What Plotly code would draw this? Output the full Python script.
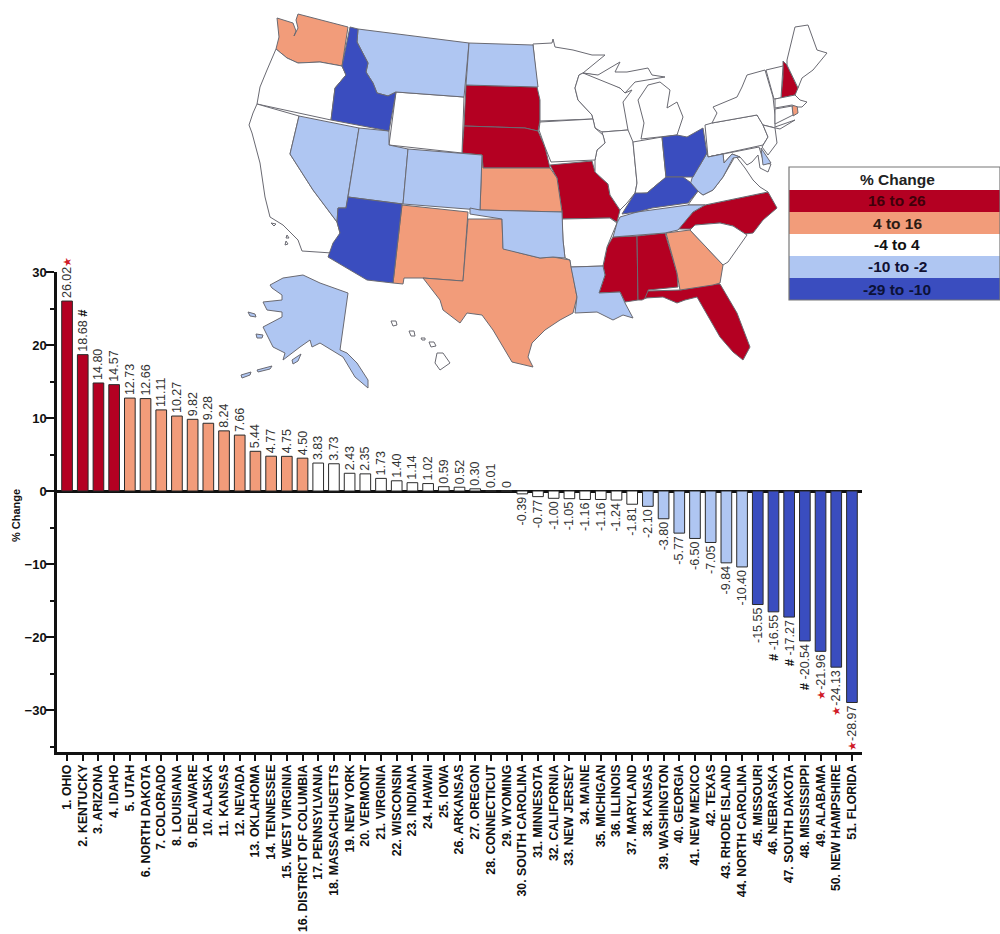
import plotly.graph_objects as go

# ---------- bar chart data ----------
STATE_NAMES = ["OHIO","KENTUCKY","ARIZONA","IDAHO","UTAH","NORTH DAKOTA","COLORADO","LOUISIANA","DELAWARE","ALASKA",
 "KANSAS","NEVADA","OKLAHOMA","TENNESSEE","WEST VIRGINIA","DISTRICT OF COLUMBIA","PENNSYLVANIA","MASSACHUSETTS","NEW YORK","VERMONT",
 "VIRGINIA","WISCONSIN","INDIANA","HAWAII","IOWA","ARKANSAS","OREGON","CONNECTICUT","WYOMING","SOUTH CAROLINA",
 "MINNESOTA","CALIFORNIA","NEW JERSEY","MAINE","MICHIGAN","ILLINOIS","MARYLAND","KANSAS","WASHINGTON","GEORGIA",
 "NEW MEXICO","TEXAS","RHODE ISLAND","NORTH CAROLINA","MISSOURI","NEBRASKA","SOUTH DAKOTA","MISSISSIPPI","ALABAMA","NEW HAMPSHIRE","FLORIDA"]
VALUES = [26.02,18.68,14.80,14.57,12.73,12.66,11.11,10.27,9.82,9.28,
 8.24,7.66,5.44,4.77,4.75,4.50,3.83,3.73,2.43,2.35,
 1.73,1.40,1.14,1.02,0.59,0.52,0.30,0.01,0,-0.39,
 -0.77,-1.00,-1.05,-1.16,-1.16,-1.24,-1.81,-2.10,-3.80,-5.77,
 -6.50,-7.05,-9.84,-10.40,-15.55,-16.55,-17.27,-20.54,-21.96,-24.13,-28.97]
VALUE_LABELS = ["26.02","18.68","14.80","14.57","12.73","12.66","11.11","10.27","9.82","9.28",
 "8.24","7.66","5.44","4.77","4.75","4.50","3.83","3.73","2.43","2.35",
 "1.73","1.40","1.14","1.02","0.59","0.52","0.30","0.01","0","-0.39",
 "-0.77","-1.00","-1.05","-1.16","-1.16","-1.24","-1.81","-2.10","-3.80","-5.77",
 "-6.50","-7.05","-9.84","-10.40","-15.55","-16.55","-17.27","-20.54","-21.96","-24.13","-28.97"]
STAR_RANKS = [1,49,50,51]
HASH_RANKS = [2,46,47,48]
BIN_COUNTS = [4,12,21,7,7]   # red, salmon, white, light, blue along the ranking

RED, SALMON, WHITE, LIGHT, BLUE = "#B40022", "#F29C7A", "#FFFFFF", "#AFC6F2", "#3A4DBF"
BIN_COLORS = [RED, SALMON, WHITE, LIGHT, BLUE]

LEGEND_TITLE = "% Change"
LEGEND_ROWS = ["16 to 26","4 to 16","-4 to 4","-10 to -2","-29 to -10"]
LEGEND_TEXT = ["#40000a","#2a1a14","#111111","#111133","#0c1238"]

# ---------- map data: outlines ----------
MAP_BINS = {
 RED: ["SD","NE","MO","MS","AL","FL","NH","NC"],
 SALMON: ["WA","NM","TX","KS","GA","RI"],
 WHITE: ["OR","CA","WY","MN","WI","IL","IN","MI","IA","AR","SC","VA","PA","NY","VT","ME","MA","CT","NJ","MD","HI"],
 LIGHT: ["MT","ND","NV","UT","CO","OK","LA","TN","WV","AK","DE"],
 BLUE: ["ID","AZ","OH","KY"],
}
OUTLINES = {
 "WA":[[(277,18),(293,23),(296,31),(294,36),(298,28),(296,20),(298,14),(348,27),(342,66),(320,62),(298,63),(287,58),(276,49),(279,37)]],
 "ID":[[(350,27),(358,29),(357,42),(368,63),(366,72),(373,83),(377,93),(388,96),(396,92),(389,131),(331,120),(335,88),(346,75),(342,66)]],
 "MT":[[(358,29),(469,43),(464,97),(396,92),(388,96),(377,93),(373,83),(366,72),(368,63),(357,42)]],
 "ND":[[(469,43),(533,45),(538,87),(466,85)]],
 "SD":[[(466,85),(538,87),(540,100),(540,120),(538,131),(525,128),(464,126)]],
 "NE":[[(464,126),(525,128),(538,131),(545,147),(550,168),(483,168),(482,155),(462,153)]],
 "WY":[[(396,92),(464,97),(462,153),(389,145)]],
 "OR":[[(276,49),(287,58),(298,63),(320,62),(342,66),(346,75),(335,88),(331,120),(257,104),(260,87),(267,70)]],
 "CA":[[(257,104),(299,116),(290,154),(313,190),(337,222),(340,233),(332,253),(302,251),(298,240),(283,225),(270,217),(265,197),(260,163),(252,133),(249,125),(253,113)],
       [(271,223),(276,224),(274,226)],[(287,235),(289,238),(286,238)],[(286,241),(288,244),(285,245)]],
 "NV":[[(299,116),(359,128),(346,208),(338,208),(337,222),(313,190),(290,154)]],
 "UT":[[(359,128),(389,131),(389,145),(408,149),(403,204),(348,197)]],
 "CO":[[(408,149),(482,155),(480,210),(403,204)]],
 "KS":[[(482,155),(483,168),(550,168),(557,178),(562,212),(480,210)]],
 "MO":[[(550,165),(592,161),(595,172),(608,184),(610,195),(620,210),(617,222),(610,218),(562,219),(562,212),(557,178)]],
 "IA":[[(540,122),(593,119),(595,128),(603,135),(605,143),(597,150),(595,160),(551,162),(545,147),(539,130)]],
 "MN":[[(533,44),(552,43),(553,39),(555,47),(573,50),(592,55),(605,55),(583,73),(579,75),(575,88),(578,100),(592,115),(593,119),(540,121),(540,100),(537,87)]],
 "WI":[[(579,75),(583,73),(595,75),(620,88),(625,93),(632,90),(623,102),(628,130),(602,132),(595,128),(592,115),(578,100),(575,88)]],
 "MI":[[(583,73),(598,75),(620,62),(615,72),(627,72),(648,68),(652,75),(665,77),(653,79),(635,82),(625,93),(620,88)],
       [(641,139),(644,123),(638,100),(648,85),(660,82),(670,90),(667,108),(677,102),(683,117),(677,135)]],
 "IL":[[(602,132),(628,130),(633,142),(637,183),(635,193),(627,203),(620,210),(610,195),(608,184),(595,172),(595,160),(597,150),(605,143)]],
 "IN":[[(633,142),(662,137),(666,178),(660,182),(647,193),(635,194),(637,183)]],
 "OH":[[(662,137),(677,135),(687,137),(703,128),(707,153),(700,165),(693,177),(666,177)]],
 "KY":[[(622,214),(635,193),(647,193),(660,182),(666,177),(683,177),(690,182),(698,191),(688,203),(652,208),(637,212)]],
 "TN":[[(620,217),(637,212),(688,205),(705,205),(693,212),(678,230),(665,233),(613,237),(617,223)]],
 "AR":[[(562,219),(610,218),(617,223),(607,247),(603,266),(571,267),(570,260),(565,258),(563,240)]],
 "OK":[[(470,208),(480,210),(562,212),(563,240),(565,258),(553,257),(540,258),(520,253),(503,249),(502,219),(470,214)]],
 "NM":[[(402,205),(468,212),(463,281),(423,278),(404,278),(403,284),(393,283)]],
 "AZ":[[(348,197),(402,204),(393,283),(367,280),(328,257),(333,243),(340,233),(337,222),(338,208),(346,208)]],
 "TX":[[(468,219),(502,219),(503,248),(520,253),(540,258),(553,257),(570,260),(577,297),(573,313),(560,320),(545,330),(532,343),(528,357),(533,367),(512,362),(493,330),(482,315),(467,313),(460,323),(443,310),(440,300),(423,278),(463,281)]],
 "LA":[[(571,267),(603,266),(605,275),(599,293),(620,292),(625,303),(633,318),(623,315),(613,320),(597,312),(575,313),(577,297)]],
 "MS":[[(613,237),(637,236),(638,300),(625,302),(620,292),(599,293),(605,275),(603,266),(607,247)]],
 "AL":[[(637,236),(665,233),(677,273),(678,287),(648,290),(648,297),(642,300),(638,300)]],
 "GA":[[(666,233),(690,230),(723,265),(720,283),(713,285),(680,290),(677,273)]],
 "FL":[[(648,291),(680,290),(714,284),(720,284),(737,313),(750,347),(743,360),(733,352),(720,337),(712,323),(697,297),(685,300),(677,303),(663,297),(645,298)]],
 "SC":[[(690,230),(695,225),(720,223),(733,226),(747,235),(728,262),(723,265)]],
 "NC":[[(678,229),(693,212),(705,205),(768,192),(777,208),(763,220),(753,233),(745,234),(733,226),(720,223),(697,225),(690,229)]],
 "VA":[[(688,205),(698,191),(703,195),(713,190),(723,177),(733,160),(735,155),(745,168),(753,180),(760,187),(768,192),(705,205)]],
 "WV":[[(707,153),(708,157),(723,154),(724,163),(732,154),(740,157),(733,158),(723,177),(713,190),(703,195),(690,185),(693,175),(700,165)]],
 "MD":[[(708,157),(759,147),(764,163),(771,164),(768,172),(760,168),(758,155),(752,162),(747,165),(740,157),(732,154),(724,163),(723,154)]],
 "DE":[[(761,148),(771,163),(763,165)]],
 "PA":[[(705,125),(712,123),(757,115),(763,125),(768,137),(763,145),(708,157)]],
 "NJ":[[(763,125),(775,128),(777,143),(768,155),(762,147),(768,137)]],
 "NY":[[(712,123),(717,113),(713,107),(737,97),(742,87),(747,75),(765,70),(773,97),(775,115),(775,127),(795,120),(780,129),(763,125),(757,115)]],
 "VT":[[(766,70),(783,66),(781,98),(774,99)]],
 "NH":[[(783,61),(787,65),(798,88),(795,95),(781,98),(783,77)]],
 "ME":[[(787,60),(795,27),(808,25),(817,50),(827,53),(813,70),(802,78),(798,88),(787,65)]],
 "MA":[[(775,99),(795,95),(800,100),(807,102),(802,107),(798,107),(792,105),(775,108)]],
 "CT":[[(775,109),(792,106),(793,115),(775,124)]],
 "RI":[[(792,106),(797,105),(798,113),(793,116)]],
 "AK":[[(270,285),(283,278),(303,275),(320,283),(348,293),(340,350),(347,353),(357,363),(368,380),(368,388),(355,377),(343,357),(320,343),(312,347),(310,340),(300,347),(283,360),(285,353),(273,347),(263,327),(282,317),(282,312),(267,310),(263,302),(282,300),(282,295),(272,288)],
       [(248,312),(255,314),(256,317),(250,316)],[(256,334),(263,335),(262,338),(257,338)],[(292,360),(301,354),(298,361),(293,364)],
       [(257,370),(272,366),(270,369),(258,372)],[(241,375),(251,372),(250,375),(242,378)]],
 "HI":[[(391,321),(396,321),(397,325),(393,326)],[(409,331),(414,331),(415,336),(411,336)],[(421,338),(425,338),(425,340),(422,340)],
       [(429,342),(434,342),(436,346),(431,347)],[(437,353),(443,353),(450,363),(440,370),(435,363)]],
}

W, H = 1000, 934
FONT = "Liberation Sans, Arial"
fig = go.Figure()

# ---------- bars ----------
categories = [f"{i+1}. {n}" for i, n in enumerate(STATE_NAMES)]
colors = []
for c, n in zip(BIN_COLORS, BIN_COUNTS):
    colors += [c]*n
STAR = '<span style="color:#D01C2A;font-size:11px">★</span>'
HASH = '<span style="color:#111;font-size:13px"><b>#</b></span>'
texts = []
for i, (lab, v) in enumerate(zip(VALUE_LABELS, VALUES)):
    if i+1 in STAR_RANKS:
        lab = f"{lab}{STAR}" if v > 0 else f"{STAR}{lab}"
    elif i+1 in HASH_RANKS:
        lab = f"{lab} {HASH}" if v > 0 else f"{HASH} {lab}"
    texts.append(lab)

fig.add_trace(go.Bar(x=categories, y=VALUES, text=texts, textposition="outside", textangle=-90,
    constraintext="none", cliponaxis=False, width=0.68,
    textfont=dict(family=FONT, size=12.5, color="#333"),
    marker=dict(color=colors, line=dict(color="#2a2a2a", width=1)), showlegend=False, hoverinfo="skip"))

fig.update_xaxes(domain=[57/W, 862/W], range=[-0.64, 50.64], type="category", categoryorder="array", categoryarray=categories,
    tickangle=-90, ticks="outside", ticklen=6, tickwidth=2, tickcolor="#111", showline=True, linecolor="#111", linewidth=2.5,
    showgrid=False, zeroline=False, tickfont=dict(family=FONT, size=12.3, color="#111"),
    automargin=False, anchor="y", tickmode="array", tickvals=categories, ticktext=[f"<b>{c}</b>" for c in categories],
    ticklabelstandoff=-1)
fig.update_yaxes(domain=[1-752/H, 1-272/H], range=[-35.75, 30], tickmode="linear", tick0=0, dtick=10, ticks="outside", ticklen=8, tickwidth=2,
    tickcolor="#111", showline=True, linecolor="#111", linewidth=2.5, showgrid=False, zeroline=True, zerolinecolor="#111", zerolinewidth=2.5,
    tickfont=dict(family=FONT, size=13, color="#111"), tickprefix="<b>", ticksuffix="</b>",
    minor=dict(dtick=5, ticks="outside", ticklen=4, tickwidth=1.5, tickcolor="#111"),
    ticklabelstandoff=-3, automargin=False)
fig.add_annotation(text="<b>% Change</b>", xref="paper", yref="paper", x=16/W, y=1-516/H, textangle=-90, showarrow=False,
    xanchor="center", yanchor="middle", font=dict(family=FONT, size=11, color="#111"))

# ---------- map on its own full-page axes ----------
fig.update_layout(
    xaxis2=dict(domain=[0,1], range=[0,W], visible=False, anchor="y2", fixedrange=True),
    yaxis2=dict(domain=[0,1], range=[H,0], visible=False, anchor="x2", fixedrange=True))
for color, codes in MAP_BINS.items():
    for code in codes:
        xs, ys = [], []
        for part in OUTLINES[code]:
            closed = part + part[:1]
            xs += [p[0] for p in closed] + [None]
            ys += [p[1] for p in closed] + [None]
        fig.add_trace(go.Scatter(x=xs, y=ys, xaxis="x2", yaxis="y2", mode="lines", fill="toself", fillcolor=color,
            line=dict(color="#6a6a72", width=1.0), name=code, showlegend=False, hoverinfo="name"))

# ---------- legend block ----------
LEG_L, LEG_R, LEG_T, ROW_H, HEAD_H, LEG_CX = 789, 1000, 167, 22, 23, 897
y0 = LEG_T + HEAD_H
fig.add_annotation(text=f"<b>{LEGEND_TITLE}</b>", xref="paper", yref="paper", x=LEG_CX/W, y=1-(LEG_T+HEAD_H/2+1)/H,
    xanchor="center", yanchor="middle", showarrow=False, font=dict(family=FONT, size=15.5, color="#222"))
for i, (row, col, tc) in enumerate(zip(LEGEND_ROWS, BIN_COLORS, LEGEND_TEXT)):
    top, bot = y0 + i*ROW_H, y0 + (i+1)*ROW_H
    fig.add_shape(type="rect", xref="paper", yref="paper", x0=LEG_L/W, x1=LEG_R/W, y0=1-bot/H, y1=1-top/H, fillcolor=col, line_width=0)
    fig.add_annotation(text=f"<b>{row}</b>", xref="paper", yref="paper", x=LEG_CX/W, y=1-(top+ROW_H/2)/H,
        xanchor="center", yanchor="middle", showarrow=False, font=dict(family=FONT, size=15.5, color=tc))
fig.add_shape(type="rect", xref="paper", yref="paper", x0=LEG_L/W, x1=LEG_R/W, y0=1-(y0+5*ROW_H)/H, y1=1-LEG_T/H, line=dict(color="#777", width=1.2))

fig.update_layout(width=W, height=H, margin=dict(l=0,r=0,t=0,b=0), paper_bgcolor="white", plot_bgcolor="rgba(0,0,0,0)",
    showlegend=False)
fig.write_html("out.html", post_script="document.body.style.margin='0';", config={"displayModeBar": False})
